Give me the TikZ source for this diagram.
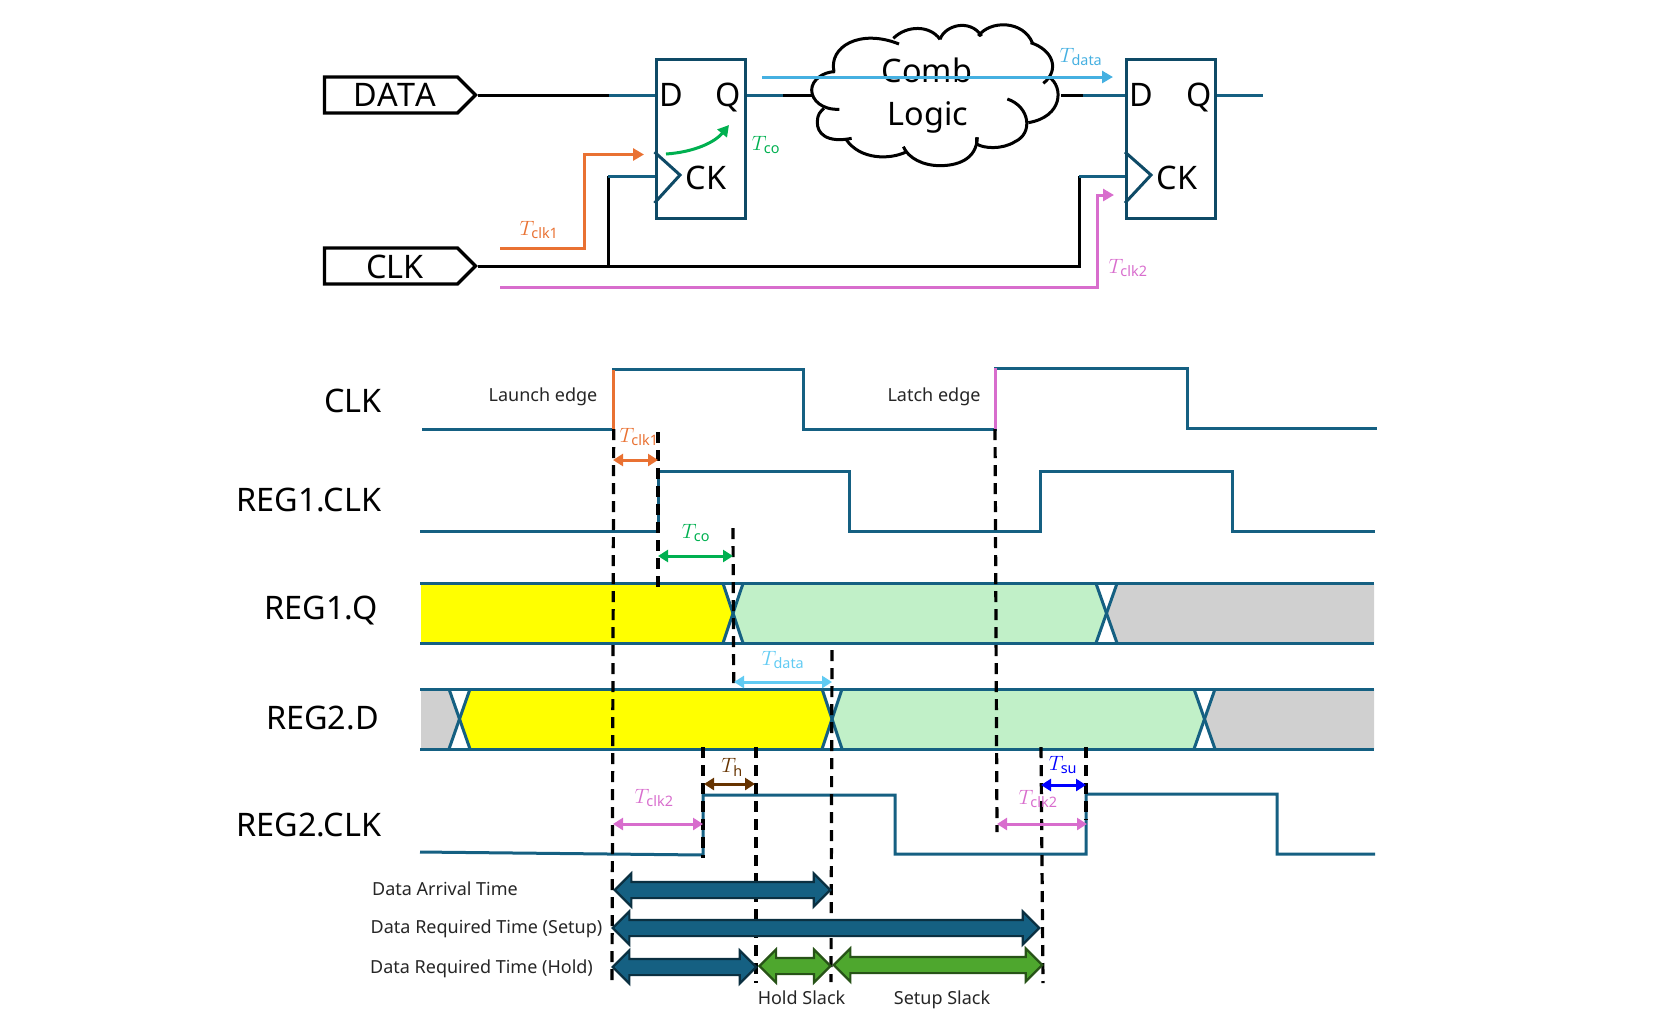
\documentclass[tikz,border=0pt]{standalone}
\usepackage{amsmath,amssymb}
\usepackage{fontspec}
\setmainfont{Noto Sans}
\usepackage{tikz}
\usetikzlibrary{positioning,arrows.meta,shapes.symbols,shapes.arrows}
\usepackage{xcolor}
\definecolor{wire}{HTML}{156082}
\definecolor{ffline}{HTML}{0E4A66}
\definecolor{tclka}{HTML}{E97132}
\definecolor{tclkb}{HTML}{D86DCD}
\definecolor{tcogreen}{HTML}{00B050}
\definecolor{tdatatop}{HTML}{45B0E1}
\definecolor{tdatalow}{HTML}{61CBF3}
\definecolor{thbrown}{HTML}{663300}
\definecolor{olddata}{HTML}{FFFF00}
\definecolor{newdata}{HTML}{C1F0C8}
\definecolor{unknown}{HTML}{D0D0D0}
\definecolor{slack}{HTML}{4EA72E}
\definecolor{slackline}{HTML}{275317}
\definecolor{timeline}{HTML}{0B3041}
\newcommand{\tsub}[1]{$T_{\mathrm{#1}}$}
\tikzset{
  bigtext/.style={font=\fontsize{32.4}{36}\selectfont, inner sep=0pt, anchor=base},
  smalltext/.style={font=\fontsize{18}{22}\selectfont, inner sep=0pt, text=black!85, anchor=base},
  tlabel/.style={font=\fontsize{20.74}{24}\selectfont, inner sep=0pt},
  port/.style={signal, signal to=east, draw=black, line width=3.4pt, minimum width=151pt, minimum height=36pt, inner sep=0pt, signal pointer angle=90},
  ffbox/.style={draw=ffline, line width=3pt, minimum width=89pt, minimum height=159pt, inner sep=0pt},
  blackwire/.style={draw=black, line width=3pt},
  tealwire/.style={draw=wire, line width=3pt},
  wave/.style={draw=wire, line width=3pt, line join=miter},
  clocktri/.style={draw=ffline, line width=3pt},
  dashline/.style={draw=black, line width=3.2pt, dash pattern=on 11pt off 7pt},
  path arrow/.style={line width=3pt, -{Triangle[length=11pt,width=12pt]}},
  dim arrow/.style={line width=3pt, {Triangle[length=10pt,width=12pt]}-{Triangle[length=10pt,width=12pt]}},
  fatarrow/.style={double arrow, double arrow head extend=8.5pt, inner xsep=0pt, inner ysep=7pt, outer sep=0pt, line width=2.2pt, text width=0pt},
  timearrow/.style={fatarrow, fill=wire, draw=timeline},
  slackarrow/.style={fatarrow, fill=slack, draw=slackline},
}
\begin{document}
\begin{tikzpicture}[x=1pt,y=-1pt]
  \useasboundingbox (0,0) rectangle (1661,1029);

  % schematic
  \node[port] (dataport) at (391,95) {};
  \node[bigtext] at (395,106) {\addfontfeature{Kerning=Off}DATA};
  \node[port] (clkport) at (391,266) {};
  \node[bigtext] at (395,278) {CLK};
  \node[ffbox] (ffa) at (700.5,138.5) {};
  \node[ffbox] (ffb) at (1171,138.5) {};
  \node[bigtext] at (671,106) {D};
  \node[bigtext] at (728,106) {Q};
  \node[bigtext] at (706,189) {CK};
  \node[bigtext] at (1141,106) {D};
  \node[bigtext] at (1199,106) {Q};
  \node[bigtext] at (1177,189) {CK};
  \draw[clocktri] (654.5,152) -- (680,175) -- (654.5,203);
  \draw[clocktri] (1125,152) -- (1151,175) -- (1125,203);

  \coordinate (dataturn) at (609,95);
  \coordinate (ckjoin) at (608,266);
  \coordinate (ckturn) at (608,176);
  \coordinate (qturn) at (783,95);
  \coordinate (cloudin) at (812,95);
  \coordinate (cloudout) at (1061,95);
  \coordinate (dturn) at (1083,95);
  \coordinate (ckbfoot) at (1079,266);
  \coordinate (ckbturn) at (1079,176);
  \coordinate (qbend) at (1263,95);
  \draw[blackwire] (dataport.east) -- (dataturn);
  \draw[tealwire] (dataturn) -- (ffa.west |- dataturn);
  \draw[tealwire] (ffa.east |- qturn) -- (qturn);
  \draw[blackwire] (qturn) -- (cloudin);
  \draw[blackwire] (cloudout) -- (dturn);
  \draw[tealwire] (dturn) -- (ffb.west |- dturn);
  \draw[tealwire] (ffb.east |- qbend) -- (qbend);
  \draw[blackwire] (clkport.east) -- (ckbfoot) -- (ckbturn);
  \draw[blackwire] (ckjoin) -- (ckturn);
  \draw[tealwire] (ckturn) -- (ffa.west |- ckturn);
  \draw[tealwire] (ckbturn) -- (ffb.west |- ckbturn);

  % cloud, traced
  \begin{scope}[shift={(760,0)},xscale=1/3,yscale=1/3,line width=3pt]
    \draw (222,215) .. controls (205,140) and (300,85) .. (417,132);
    \draw (400,115) .. controls (440,75) and (510,75) .. (540,118);
    \draw (540,118) .. controls (555,75) and (630,55) .. (665,108);
    \draw (655,108) .. controls (690,60) and (790,60) .. (818,130);
    \draw (812,128) .. controls (880,150) and (900,210) .. (850,250);
    \draw (868,232) .. controls (910,260) and (910,350) .. (805,368);
    \draw (742,297) .. controls (810,320) and (820,400) .. (765,425) .. controls (725,450) and (670,445) .. (650,432) -- (650,412);
    \draw (652,412) .. controls (650,480) and (590,497) .. (540,497) .. controls (490,497) and (445,475) .. (430,440);
    \draw (440,455) .. controls (390,480) and (300,480) .. (258,418);
    \draw (275,415) .. controls (200,430) and (170,400) .. (172,365) .. controls (172,345) and (180,335) .. (192,325);
    \draw (238,328) .. controls (185,330) and (155,300) .. (155,270) .. controls (155,240) and (190,215) .. (225,215);
  \end{scope}
  \node[bigtext] (comb) at (927,82) {Comb};
  \node[bigtext] (logic) at (928,125) {Logic};

  \coordinate (tdatafrom) at (762,77);
  \coordinate (tdatato) at (1113,77);
  \draw[path arrow, tdatatop] (tdatafrom) -- (tdatato);
  \coordinate (tclkafrom) at (500,248);
  \coordinate (tclkabend) at (584,248);
  \coordinate (tclkato) at (644,154.5);
  \draw[path arrow, tclka] (tclkafrom) -- (tclkabend) |- (tclkato);
  \coordinate (tclkbfrom) at (500,287);
  \coordinate (tclkbbend) at (1097,287);
  \coordinate (tclkbto) at (1114,195);
  \draw[path arrow, tclkb] (tclkbfrom) -- (tclkbbend) |- (tclkbto);
  \coordinate (tcofrom) at (666,154);
  \coordinate (tcoto) at (729,125);
  \draw[path arrow, tcogreen] (tcofrom) .. controls (695,152) and (715,142) .. (tcoto);
  \node[tlabel, text=tclka] (tclkatop) at (539,230) {\tsub{clk1}};
  \node[tlabel, text=tcogreen] (tcotop) at (766,145) {\tsub{co}};
  \node[tlabel, text=tdatatop] (tdatalab) at (1081,57) {\tsub{data}};
  \node[tlabel, text=tclkb] (tclkbtop) at (1128,268) {\tsub{clk2}};

  % timing diagram
  \node[bigtext] (clkname) at (353,412) {CLK};
  \node[bigtext] (regaclk) at (309,511) {REG1.CLK};
  \node[bigtext] (regaq) at (321,619) {REG1.Q};
  \node[bigtext] (regbd) at (322.5,729) {REG2.D};
  \node[bigtext] (regbclk) at (309,836) {REG2.CLK};
  \node[smalltext] (launch) at (543,401) {Launch edge};
  \node[smalltext] (latch) at (934,401) {Latch edge};

  \draw[wave] (422,429) -- (613,429) -- (613,369.5) -- (803,369.5) -- (803,429) -- (995,429) -- (995,368) -- (1187,368) -- (1187,428) -- (1377,428);
  \draw[tclka, line width=3pt] (613,369.5) -- (613,429);
  \draw[tclkb, line width=3pt] (995,368) -- (995,429);
  \draw[wave] (420,531.5) -- (658,531.5) -- (658,471.5) -- (849,471.5) -- (849,531.5) -- (1040,531.5) -- (1040,471.5) -- (1232,471.5) -- (1232,531.5) -- (1375,531.5);

  % buses
  \fill[olddata] (421,583.5) -- (723,583.5) -- (733,613) -- (723,643) -- (421,643) -- cycle;
  \fill[newdata] (743,583.5) -- (1096,583.5) -- (1106,613) -- (1096,643) -- (743,643) -- (733,613) -- cycle;
  \fill[unknown] (1117,583.5) -- (1374,583.5) -- (1374,643) -- (1117,643) -- (1106,613) -- cycle;
  \fill[unknown] (421,689) -- (449,689) -- (459,719) -- (449,749) -- (421,749) -- cycle;
  \fill[olddata] (470,689) -- (822,689) -- (832,719) -- (822,749) -- (470,749) -- (459,719) -- cycle;
  \fill[newdata] (842,689) -- (1194,689) -- (1205,719) -- (1194,749) -- (842,749) -- (832,719) -- cycle;
  \fill[unknown] (1215,689) -- (1374,689) -- (1374,749) -- (1215,749) -- (1205,719) -- cycle;
  \foreach \y in {583.5,643,689,749} \draw[wave] (420,\y) -- (1374,\y);
  \foreach \a/\b in {723/743,1096/1117} {
    \draw[wave] (\a,583.5) -- (\b,643);
    \draw[wave] (\b,583.5) -- (\a,643);
  }
  \foreach \a/\b in {449/470,822/842,1194/1215} {
    \draw[wave] (\a,689) -- (\b,749);
    \draw[wave] (\b,689) -- (\a,749);
  }
  \draw[wave] (420,852) -- (703,855) -- (703,795) -- (895,795) -- (895,854) -- (1086,854) -- (1086,794) -- (1277,794) -- (1277,854) -- (1375,854);

  \coordinate (launchtop) at (613.7,429);
  \coordinate (launchbot) at (612,980);
  \coordinate (clkatop) at (658,432);
  \coordinate (clkabot) at (658,587);
  \coordinate (tcovtop) at (733,528);
  \coordinate (tcovbot) at (733.7,683);
  \coordinate (arrivetop) at (832,650);
  \coordinate (arrivebot) at (831,982);
  \coordinate (latchtop) at (995,429);
  \coordinate (latchbot) at (997,832);
  \coordinate (clkbtop) at (703,747);
  \coordinate (clkbbot) at (703,858);
  \coordinate (holdtop) at (756,747);
  \coordinate (holdbot) at (756,983);
  \coordinate (setuptop) at (1041,747);
  \coordinate (setupbot) at (1043,983);
  \coordinate (edgetop) at (1086,747);
  \coordinate (edgebot) at (1086,820);
  \foreach \a/\b in {launchtop/launchbot,clkatop/clkabot,tcovtop/tcovbot,arrivetop/arrivebot,latchtop/latchbot,clkbtop/clkbbot,holdtop/holdbot,setuptop/setupbot,edgetop/edgebot}
    \draw[dashline] (\a) -- (\b);

  % delays
  \draw[dim arrow, tclka] (613,460) -- (658,460);
  \draw[dim arrow, tcogreen] (658,556) -- (733,556);
  \draw[dim arrow, tdatalow] (734,682) -- (832,682);
  \draw[dim arrow, thbrown] (704,784) -- (755,784);
  \draw[dim arrow, tclkb] (613,824) -- (703,824);
  \draw[dim arrow, blue] (1041,785) -- (1086,785);
  \draw[dim arrow, tclkb] (997,824) -- (1087,824);
  \node[tlabel, text=tclka] (tclkalow) at (639,437) {\tsub{clk1}};
  \node[tlabel, text=tcogreen] (tcolow) at (696,533) {\tsub{co}};
  \node[tlabel, text=tdatalow] (tdatabus) at (783,660) {\tsub{data}};
  \node[tlabel, text=thbrown] (thlow) at (732,767) {\tsub{h}};
  \node[tlabel, text=tclkb] (tclkblow) at (654,798) {\tsub{clk2}};
  \node[tlabel, text=blue] (tsulow) at (1063,765) {\tsub{su}};
  \node[tlabel, text=tclkb] (tclkbright) at (1038,799) {\tsub{clk2}};

  % time spans
  \node[smalltext] (arrivaltext) at (445,895) {Data Arrival Time};
  \node[smalltext] (setuptext) at (486.5,933) {Data Required Time (Setup)};
  \node[smalltext] (holdtext) at (481.5,973) {Data Required Time (Hold)};
  \node[smalltext] (holdslack) at (801.5,1004) {Hold Slack};
  \node[smalltext] (setupslack) at (942,1004) {Setup Slack};
  \node[timearrow, minimum height=215.5pt] (arrivalspan) at (722.5,890) {};
  \node[timearrow, minimum height=426.5pt] (setupspan) at (826,928) {};
  \node[timearrow, minimum height=143.5pt] (holdspan) at (684.5,967) {};
  \node[slackarrow, minimum height=71pt] (holdslackspan) at (795,966) {};
  \node[slackarrow, minimum height=208.5pt] (setupslackspan) at (938,965) {};
\end{tikzpicture}
\end{document}
